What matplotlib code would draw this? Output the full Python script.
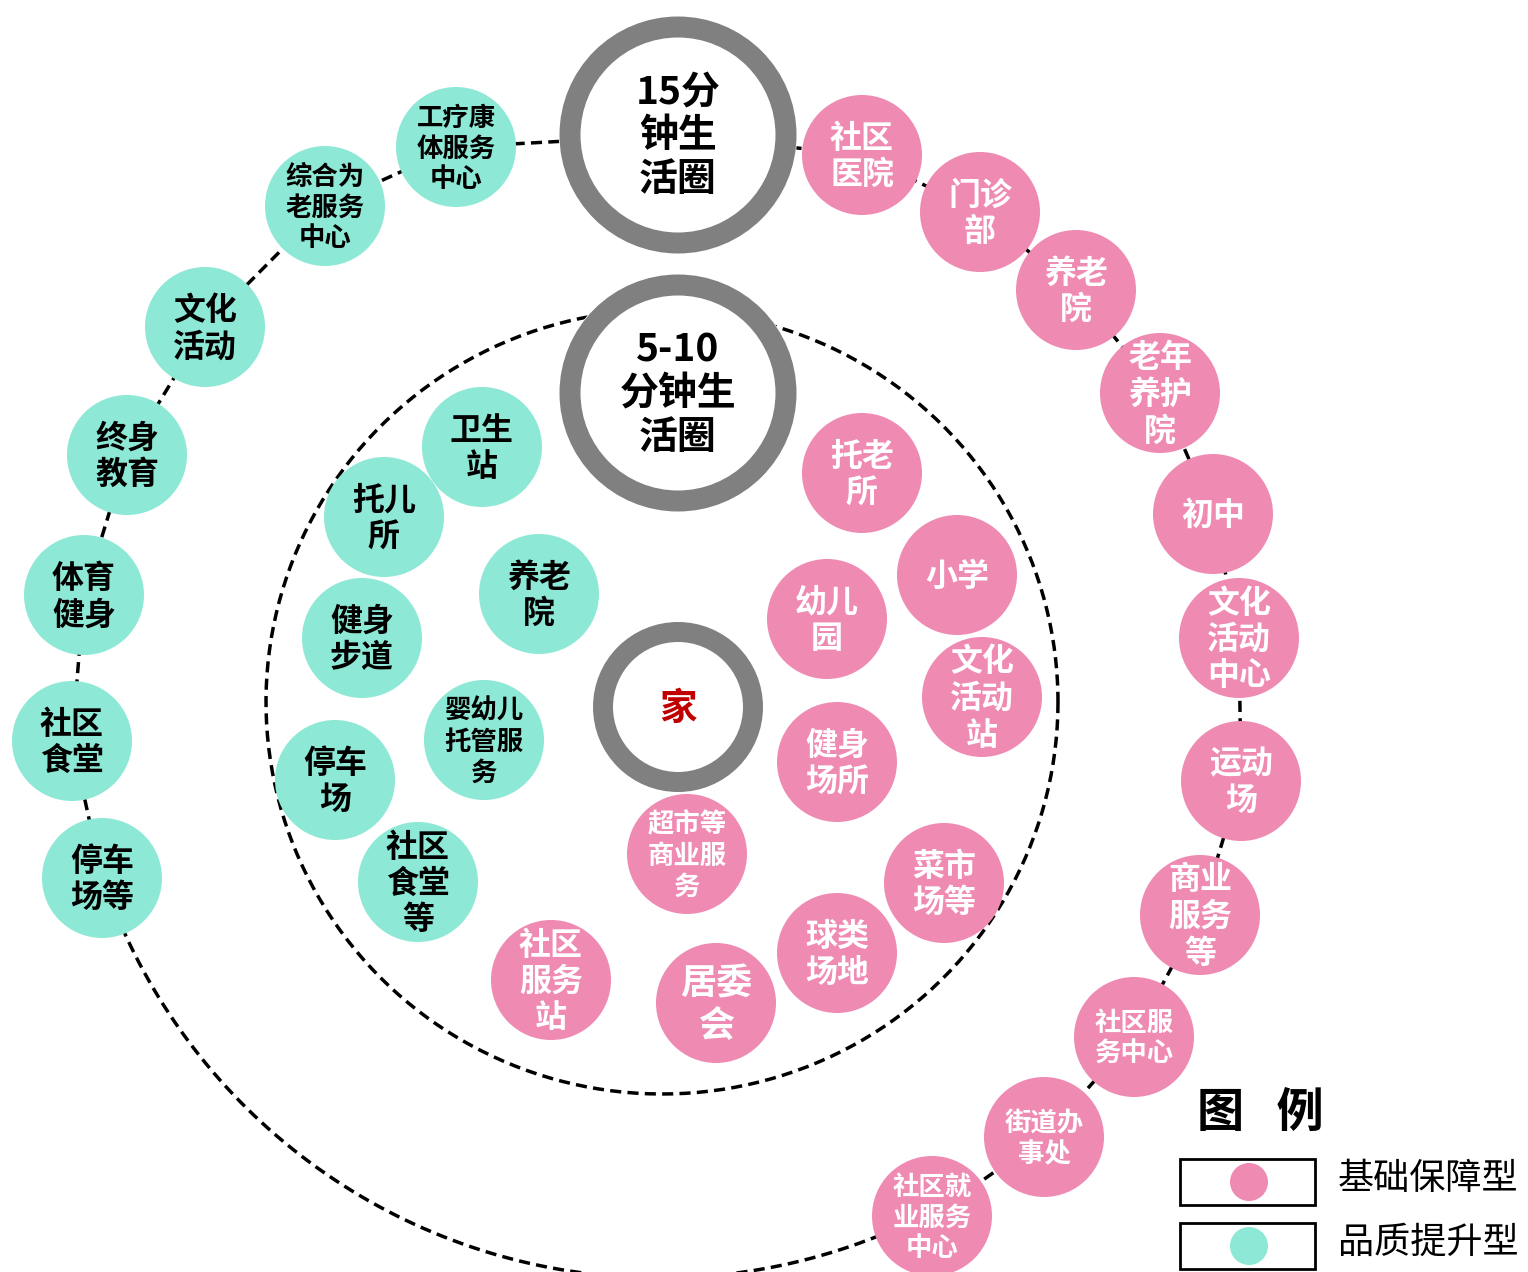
import matplotlib
matplotlib.use("Agg")
import matplotlib.pyplot as plt
from matplotlib.patches import Circle, Rectangle
import numpy as np

plt.rcParams['font.family'] = ['Noto Sans CJK SC', 'DejaVu Sans']

# ---------------- data ----------------
ring_labels = ["15分\n钟生\n活圈", "5-10\n分钟生\n活圈", "家"]

outer_labels = ["工疗康\n体服务\n中心", "综合为\n老服务\n中心", "文化\n活动", "终身\n教育", "体育\n健身",
                "社区\n食堂", "停车\n场等",
                "社区\n医院", "门诊\n部", "养老\n院", "老年\n养护\n院", "初中", "文化\n活动\n中心", "运动\n场",
                "商业\n服务\n等", "社区服\n务中心", "街道办\n事处", "社区就\n业服务\n中心"]
outer_types = ["q"] * 7 + ["b"] * 11

inner_labels = ["卫生\n站", "托儿\n所", "养老\n院", "健身\n步道", "婴幼儿\n托管服\n务", "停车\n场", "社区\n食堂\n等",
                "托老\n所", "小学", "幼儿\n园", "文化\n活动\n站", "健身\n场所", "超市等\n商业服\n务", "菜市\n场等",
                "球类\n场地", "居委\n会", "社区\n服务\n站"]
inner_types = ["q"] * 7 + ["b"] * 10

legend_labels = ["基础保障型", "品质提升型"]
legend_title = "图   例"

# ---------------- layout (pixel coordinates) ----------------
outer_pos = [(456, 147), (325, 206), (205, 327), (127, 455), (84, 595), (72, 741), (102, 878),
             (862, 155), (980, 212), (1076, 290), (1160, 393), (1213, 514), (1239, 638), (1241, 781),
             (1200, 915), (1134, 1037), (1044, 1137), (932, 1216)]
outer_fs = [19, 19, 23, 23, 23, 23, 23,
            23, 23, 23, 23, 23, 23, 23, 23, 19, 19, 19]
inner_pos = [(482, 447), (384, 517), (539, 594), (362, 638), (484, 740), (335, 780), (418, 882),
             (862, 473), (957, 575), (827, 619), (982, 697), (837, 762), (687, 854), (944, 883),
             (837, 953), (716, 1003), (551, 980)]
inner_fs = [23, 23, 23, 23, 19, 23, 23,
            23, 23, 23, 23, 23, 19, 23, 23, 26, 23]

ring_pos = [(678, 135), (678, 393), (678, 707)]
ring_r = [108, 108, 75]
ring_w = [21, 21, 20]
ring_fs = [28, 28, 27]

PINK = "#EF8AB3"
TEAL = "#8DE8D6"
GRAY = "#808080"
R = 60
DASH = (0, (3.2, 1.8))
LW = 2.5

W, H = 1528, 1272
fig = plt.figure(figsize=(W / 100, H / 100), dpi=100)
ax = fig.add_axes([0, 0, 1, 1])
ax.set_xlim(0, W)
ax.set_ylim(H, 0)
ax.set_aspect('equal')
ax.axis('off')

# dashed inner circle
t = np.linspace(0, 2 * np.pi, 400)
ax.plot(662 + 396 * np.cos(t), 702 + 392 * np.sin(t), ls=DASH, color='black', lw=LW, zorder=1)

# outer dashed path: left chain, top ring, right chain, bottom arc
left = outer_pos[:7][::-1]
right = outer_pos[7:]
path = left + [ring_pos[0]] + right
px = [p[0] for p in path]
py = [p[1] for p in path]
ax.plot(px, py, ls=DASH, color='black', lw=LW, zorder=1)
cx, cy, rr = 660, 690, 588
a0 = np.arctan2(outer_pos[6][1] - cy, outer_pos[6][0] - cx)
a1 = np.arctan2(outer_pos[-1][1] - cy, outer_pos[-1][0] - cx)
arc = np.linspace(a0, a1, 200)
ax.plot(cx + rr * np.cos(arc), cy + rr * np.sin(arc), ls=DASH, color='black', lw=LW, zorder=1)


def bubble(x, y, label, typ, fs):
    col = PINK if typ == "b" else TEAL
    tc = "white" if typ == "b" else "black"
    ax.add_patch(Circle((x, y), R, color=col, zorder=3, lw=0))
    ax.text(x, y + 2, label, ha='center', va='center', fontsize=fs, fontweight='bold', color=tc,
            linespacing=1.18, zorder=4)


for (x, y), lab, typ, fs in zip(outer_pos, outer_labels, outer_types, outer_fs):
    bubble(x, y, lab, typ, fs)
for (x, y), lab, typ, fs in zip(inner_pos, inner_labels, inner_types, inner_fs):
    bubble(x, y, lab, typ, fs)

for (x, y), lab, r, w, fs, i in zip(ring_pos, ring_labels, ring_r, ring_w, ring_fs, range(3)):
    ax.add_patch(Circle((x, y), r + w / 2, color='white', zorder=5))
    ax.add_patch(Circle((x, y), r, fill=False, ec=GRAY, lw=w * 0.72, zorder=6))
    ax.text(x, y + 1, lab, ha='center', va='center', fontsize=fs, fontweight='bold',
            color='#C00000' if i == 2 else 'black', linespacing=1.15, zorder=7)

# legend
ax.text(1260, 1113, legend_title, ha='center', va='center', fontsize=34, fontweight='bold', zorder=8)
for i, (lab, col) in enumerate(zip(legend_labels, [PINK, TEAL])):
    yc = 1182 + i * 64
    ax.add_patch(Rectangle((1180, yc - 23), 135, 46, fill=False, ec='black', lw=2, zorder=8))
    ax.add_patch(Circle((1249, yc), 19, color=col, zorder=9, lw=0))
    ax.text(1338, yc - 3, lab, ha='left', va='center', fontsize=26, zorder=9)

fig.savefig("out.png", dpi=100)
